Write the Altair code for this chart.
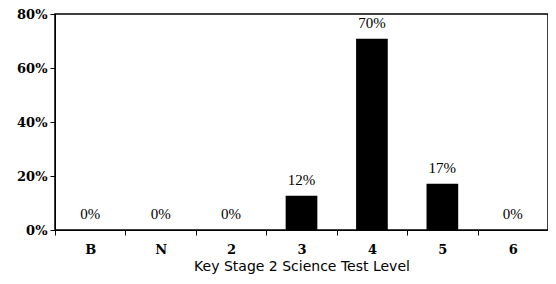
import altair as alt
import pandas as pd

levels = ["B", "N", "2", "3", "4", "5", "6"]
shares = [0.0, 0.0, 0.0, 0.127, 0.708, 0.171, 0.0]
labels = ["0%", "0%", "0%", "12%", "70%", "17%", "0%"]

df = pd.DataFrame({"level": levels, "share": shares, "label": labels})

x = alt.X("level:N", sort=levels, title="Key Stage 2 Science Test Level",
          scale=alt.Scale(paddingInner=0, paddingOuter=0),
          axis=alt.Axis(labelAngle=0, tickBand="extent", labelPadding=8,
                        labelFont="DejaVu Serif", labelFontWeight="bold", labelFontSize=13,
                        titleFont="DejaVu Sans", titleFontWeight="normal", titleFontSize=14,
                        titlePadding=3, tickSize=5, domainColor="black", tickColor="black",
                        labelColor="black", titleColor="black"))
y = alt.Y("share:Q", title=None,
          scale=alt.Scale(domain=[0, 0.8], nice=False),
          axis=alt.Axis(values=[0, 0.2, 0.4, 0.6, 0.8], format=".0%", grid=False,
                        labelFont="DejaVu Serif", labelFontWeight="bold", labelFontSize=13,
                        labelPadding=3, tickSize=5, domainColor="black", tickColor="black",
                        labelColor="black"))

bars = alt.Chart(df).mark_bar(color="black", width=alt.RelativeBandSize(0.45)).encode(x=x, y=y)
text = alt.Chart(df).mark_text(baseline="bottom", dy=-8, font="Liberation Serif",
                               fontSize=15, color="black").encode(x=x, y=y, text="label:N")

chart = (bars + text).properties(
    width=493, height=216,
    autosize=alt.AutoSizeParams(type="none"),
    padding={"left": 47, "top": 6, "right": 0, "bottom": 46},
).configure_view(stroke="black", strokeWidth=1.5)

chart.save("out.html", embed_options={"renderer": "svg", "actions": False})
